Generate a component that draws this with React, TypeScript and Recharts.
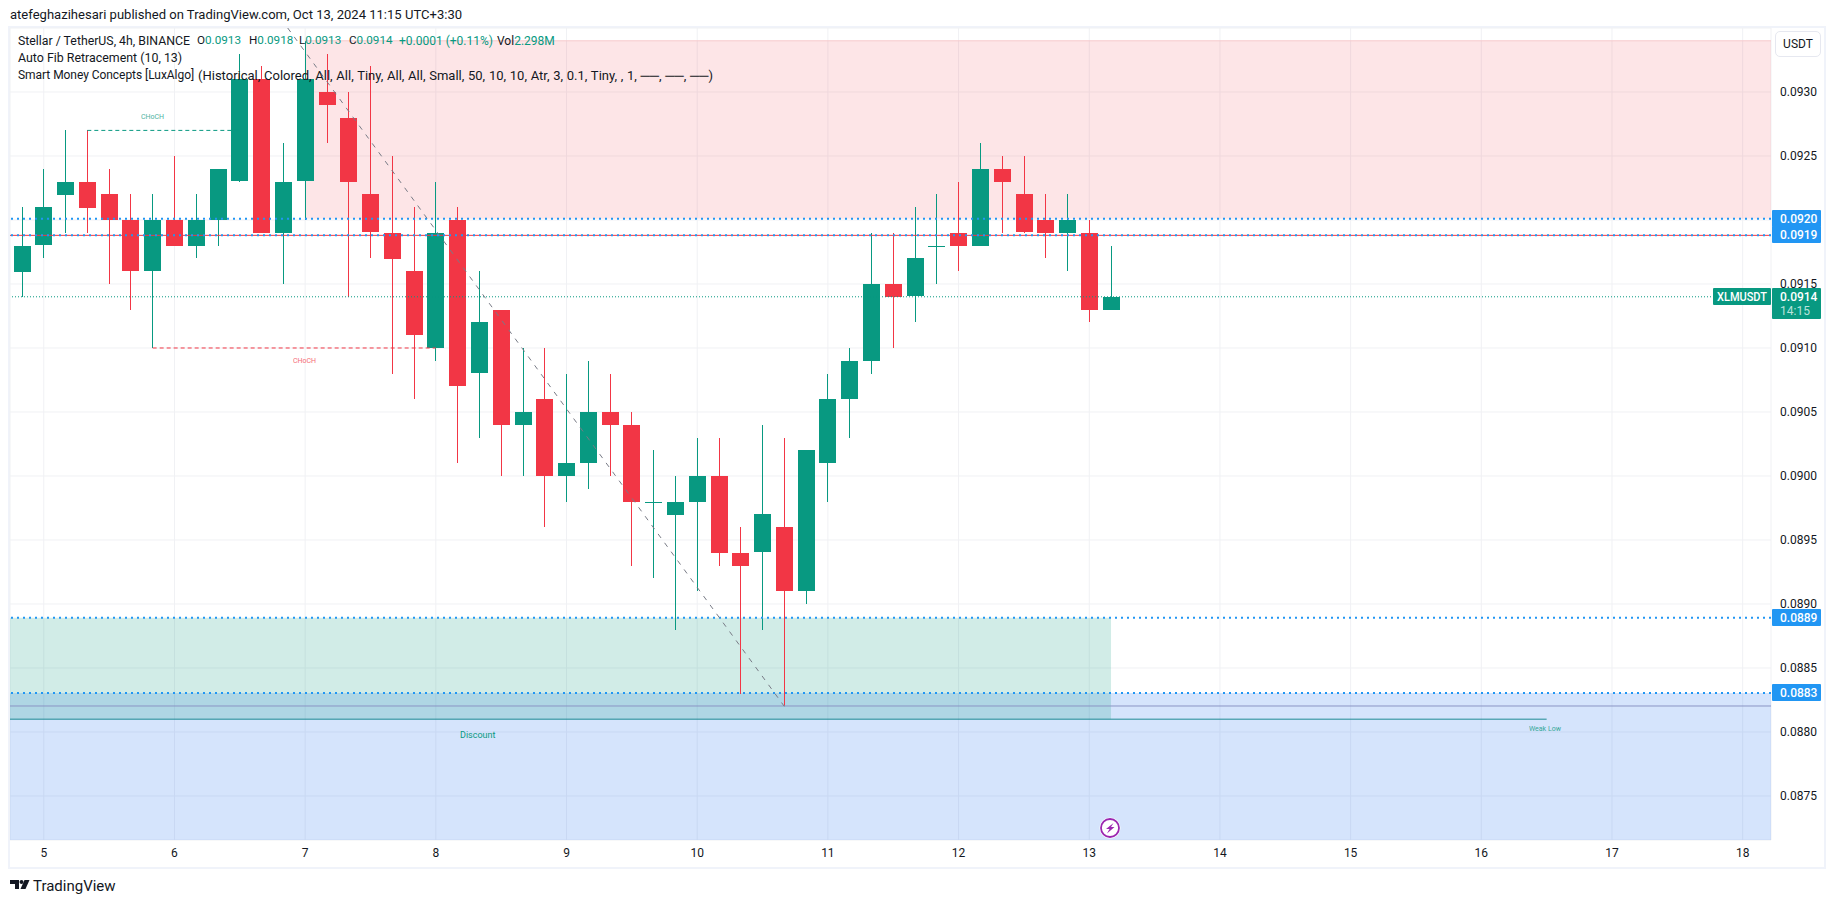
import React from "react";
import { ComposedChart, Bar, XAxis, YAxis, CartesianGrid, ReferenceArea, ReferenceLine } from "recharts";

const opens = [0.0916,0.0918,0.0922,0.0923,0.0922,0.0920,0.0916,0.0920,0.0918,0.0920,0.0923,0.0931,0.0919,0.0923,0.0930,0.0928,0.0922,0.0919,0.0916,0.0910,0.0920,0.0908,0.0913,0.0904,0.0906,0.0900,0.0901,0.0905,0.0904,0.0898,0.0897,0.0898,0.0900,0.0894,0.0894,0.0896,0.0891,0.0901,0.0906,0.0909,0.0915,0.0914,0.0918,0.0919,0.0918,0.0924,0.0922,0.0920,0.0919,0.0919,0.0913];
const highs = [0.0921,0.0924,0.0927,0.0927,0.0924,0.0922,0.0922,0.0925,0.0922,0.0924,0.0933,0.0932,0.0926,0.0934,0.0933,0.0930,0.0932,0.0925,0.0921,0.0923,0.0921,0.0916,0.0913,0.0910,0.0910,0.0908,0.0909,0.0908,0.0905,0.0902,0.0900,0.0903,0.0903,0.0896,0.0904,0.0903,0.0902,0.0908,0.0910,0.0919,0.0919,0.0921,0.0922,0.0923,0.0926,0.0925,0.0925,0.0922,0.0922,0.0920,0.0918];
const lows = [0.0914,0.0917,0.0919,0.0919,0.0915,0.0913,0.0910,0.0918,0.0917,0.0918,0.0923,0.0919,0.0915,0.0920,0.0926,0.0914,0.0917,0.0908,0.0906,0.0909,0.0901,0.0903,0.0900,0.0900,0.0896,0.0898,0.0899,0.0900,0.0893,0.0892,0.0888,0.0891,0.0893,0.0883,0.0888,0.0882,0.0890,0.0898,0.0903,0.0908,0.0910,0.0912,0.0915,0.0916,0.0918,0.0919,0.0919,0.0917,0.0916,0.0912,0.0913];
const closes = [0.0918,0.0921,0.0923,0.0921,0.0920,0.0916,0.0920,0.0918,0.0920,0.0924,0.0931,0.0919,0.0923,0.0931,0.0929,0.0923,0.0919,0.0917,0.0911,0.0919,0.0907,0.0912,0.0904,0.0905,0.0900,0.0901,0.0905,0.0904,0.0898,0.0898,0.0898,0.0900,0.0894,0.0893,0.0897,0.0891,0.0902,0.0906,0.0909,0.0915,0.0914,0.0917,0.0918,0.0918,0.0924,0.0923,0.0919,0.0919,0.0920,0.0913,0.0914];

const dayLabels = [5,6,7,8,9,10,11,12,13,14,15,16,17,18];
const dayBars = [1,7,13,19,25,31,37,43,49,55,61,67,73,79];
const priceTicks = [0.0875,0.088,0.0885,0.089,0.0895,0.09,0.0905,0.091,0.0915,0.092,0.0925,0.093];

const barDomain: [number, number] = [-0.55, 80.3];
const priceDomain: [number, number] = [0.087156, 0.0935];

const premiumTop = 0.0934, premiumBottom = 0.09201, premiumStartBar = 13;
const fibHigh = 0.09201, fibHigh2 = 0.09188, fibLow = 0.088893, fibLow2 = 0.088305;
const purpleLevel = 0.088203, weakLow = 0.0881, lastPrice = 0.0914;
const weakLowEndBar = 70.0, greenZoneEndBar = 50;
const chochUp = 0.0927, chochDown = 0.091;
const trendStart = { x: 12.2, y: 0.0935 }, trendEnd = { x: 35, y: 0.0882 };

const legendOhlc = [
  { key: "O", value: "0.0913", left: 197 },
  { key: "H", value: "0.0918", left: 249 },
  { key: "L", value: "0.0913", left: 299 },
  { key: "C", value: "0.0914", left: 349 },
];

const candles = opens.map((o, i) => ({ bar: i, o, h: highs[i], l: lows[i], c: closes[i], range: [lows[i], highs[i]] }));

const UP = "#089981", DOWN = "#f23645", BLUE = "#2196f3";
const FONT = "Roboto, 'Noto Sans', sans-serif";

function Candle(props: any) {
  const { x, y, width, height, payload } = props;
  const p = payload;
  const top = Math.min(y, y + height);
  const span = Math.abs(height);
  const k = span / (p.h - p.l);
  const hi = Math.max(p.o, p.c), lo = Math.min(p.o, p.c);
  const color = p.c >= p.o ? UP : DOWN;
  const cx = Math.round(x + width / 2);
  const by = Math.round(top + (p.h - hi) * k);
  const bh = Math.max(1, Math.round((hi - lo) * k));
  return (
    <g shapeRendering="crispEdges">
      <rect x={cx} y={top} width={1} height={span} fill={color} />
      <rect x={cx - 8} y={by} width={17} height={bh} fill={color} />
    </g>
  );
}

function PriceTag(props: any) {
  const { viewBox, text, fill } = props;
  const y = Math.round(viewBox.y);
  const x = viewBox.x + viewBox.width + 1;
  return (
    <g>
      <rect x={x} y={y - 9} width={49} height={17} rx={1} fill={fill} />
      <text x={x + 8} y={y + 4} fontFamily={FONT} fontSize={12} fontWeight={500} fill="#fff">{text}</text>
    </g>
  );
}

function LastTag(props: any) {
  const { viewBox } = props;
  const y = Math.round(viewBox.y);
  const x = viewBox.x + viewBox.width;
  return (
    <g>
      <rect x={x - 58} y={y - 9} width={58} height={17} rx={1} fill={UP} />
      <text x={x - 54} y={y + 4} fontFamily={FONT} fontSize={12} fontWeight={500} fill="#fff" textLength={50} lengthAdjust="spacingAndGlyphs">XLMUSDT</text>
      <rect x={x + 1} y={y - 9} width={49} height={31} rx={1} fill={UP} />
      <text x={x + 9} y={y + 4} fontFamily={FONT} fontSize={12} fontWeight={500} fill="#fff">0.0914</text>
      <text x={x + 9} y={y + 18} fontFamily={FONT} fontSize={12} fill="#b9e3db">14:15</text>
    </g>
  );
}

const T = (p: any) => (
  <div style={{ position: "absolute", whiteSpace: "pre", fontFamily: FONT, lineHeight: 1, ...p.s }}>{p.children}</div>
);

export default function App() {
  return (
    <div style={{ position: "absolute", left: 0, top: 0, width: 1835, height: 903, background: "#fff", overflow: "hidden" }}>
      <div style={{ position: "absolute", left: 8, top: 26, width: 1814, height: 839, border: "2px solid #f0f3fa" }} />
      <div style={{ position: "absolute", left: 0, top: 0 }}>
        <ComposedChart width={1835} height={903} data={candles} margin={{ top: 28, right: 10, bottom: 35, left: 10 }}>
          <CartesianGrid stroke="#f0f1f4" strokeWidth={1} />
          <XAxis dataKey="bar" type="number" domain={barDomain} allowDataOverflow ticks={dayBars} interval={0} height={28}
            tickFormatter={(v: number) => String(dayLabels[dayBars.indexOf(v)])} axisLine={false} tickLine={false} tickSize={0} tickMargin={8}
            tick={{ fontFamily: FONT, fontSize: 12, fill: "#131722" }} />
          <YAxis orientation="right" type="number" domain={priceDomain} allowDataOverflow ticks={priceTicks} interval={0} width={54}
            tickFormatter={(v: number) => (v === 0.092 ? "" : v.toFixed(4))} axisLine={false} tickLine={false} tickSize={0} tickMargin={9}
            tick={{ fontFamily: FONT, fontSize: 12, fill: "#131722" }} />
          <ReferenceArea x1={premiumStartBar} x2={barDomain[1]} y1={premiumBottom} y2={premiumTop} fill="rgb(242,54,69)" fillOpacity={0.13} stroke="none" />
          <ReferenceLine segment={[{ x: premiumStartBar, y: premiumTop }, { x: barDomain[1], y: premiumTop }]} stroke="#f7c9cc" />
          <ReferenceArea y1={priceDomain[0]} y2={fibLow2} fill="rgb(46,120,240)" fillOpacity={0.2} stroke="none" />
          <ReferenceArea x1={barDomain[0]} x2={greenZoneEndBar} y1={weakLow} y2={fibLow} fill="rgb(8,153,129)" fillOpacity={0.19} stroke="none" />
          <ReferenceLine y={lastPrice} stroke={UP} strokeWidth={1} strokeDasharray="1 2" label={<LastTag />} />
          <ReferenceLine y={fibHigh2} stroke={DOWN} strokeWidth={1} />
          <ReferenceLine y={fibHigh} stroke={BLUE} strokeWidth={2} strokeDasharray="2 4" label={<PriceTag text="0.0920" fill={BLUE} />} />
          <ReferenceLine y={fibHigh2} stroke={BLUE} strokeWidth={2} strokeDasharray="2 4" label={<PriceTag text="0.0919" fill={BLUE} />} />
          <ReferenceLine y={fibLow} stroke={BLUE} strokeWidth={2} strokeDasharray="2 4" label={<PriceTag text="0.0889" fill={BLUE} />} />
          <ReferenceLine y={fibLow2} stroke={BLUE} strokeWidth={2} strokeDasharray="2 4" label={<PriceTag text="0.0883" fill={BLUE} />} />
          <ReferenceLine y={purpleLevel} stroke="#8b94c4" strokeWidth={1} />
          <ReferenceLine segment={[{ x: barDomain[0], y: weakLow }, { x: weakLowEndBar, y: weakLow }]} stroke="#1e8b95" strokeWidth={1} />
          <ReferenceLine segment={[{ x: 3, y: chochUp }, { x: 10, y: chochUp }]} stroke={UP} strokeDasharray="4 3" />
          <ReferenceLine segment={[{ x: 6, y: chochDown }, { x: 19, y: chochDown }]} stroke={DOWN} strokeDasharray="4 3" />
          <ReferenceLine segment={[trendStart, trendEnd]} stroke="#787b86" strokeDasharray="5 6" />
          <Bar dataKey="range" barSize={17} shape={<Candle />} isAnimationActive={false} />
        </ComposedChart>
      </div>

      <T s={{ left: 10, top: 8, fontSize: 13.05, color: "#131722" }}>atefeghazihesari published on TradingView.com, Oct 13, 2024 11:15 UTC+3:30</T>

      <T s={{ left: 18, top: 35, fontSize: 12.3, color: "#131722" }}>Stellar / TetherUS, 4h, BINANCE</T>
      {legendOhlc.map((d) => (
        <T key={d.key} s={{ left: d.left, top: 35, fontSize: 11.7, color: "#131722" }}>{d.key}<span style={{ color: UP }}>{d.value}</span></T>
      ))}
      <T s={{ left: 399, top: 35, fontSize: 12, color: UP }}>+0.0001 (+0.11%)</T>
      <T s={{ left: 497, top: 35, fontSize: 12, color: "#131722" }}>Vol<span style={{ color: UP }}>2.298M</span></T>

      <T s={{ left: 18, top: 52, fontSize: 12.4, color: "#131722" }}>Auto Fib Retracement (10, 13)</T>
      <T s={{ left: 18, top: 69, fontSize: 12, letterSpacing: -0.05, color: "#131722" }}>Smart Money Concepts [LuxAlgo]</T>
      <T s={{ left: 198, top: 69, fontSize: 13, wordSpacing: 0.5, color: "#131722" }}>(Historical, Colored, All, All, Tiny, All, All, Small, 50, 10, 10, Atr, 3, 0.1, Tiny, , 1, ──, ──, ──)</T>

      <T s={{ left: 141, top: 114, fontSize: 7, color: "#089981", opacity: 0.75 }}>CHoCH</T>
      <T s={{ left: 293, top: 358, fontSize: 7, color: "#f23645", opacity: 0.75 }}>CHoCH</T>
      <T s={{ left: 460, top: 731, fontSize: 9, color: "#089981" }}>Discount</T>
      <T s={{ left: 1529, top: 726, fontSize: 7, color: "#089981", opacity: 0.8 }}>Weak Low</T>

      <div style={{ position: "absolute", left: 1775, top: 31, width: 46, height: 26, boxSizing: "border-box", border: "1px solid #e6e8f0", borderRadius: 5, background: "#fff", fontFamily: FONT, fontSize: 12, color: "#131722", textAlign: "center", lineHeight: "24px" }}>USDT</div>

      <svg style={{ position: "absolute", left: 1099, top: 817 }} width={22} height={22}>
        <circle cx={11} cy={11} r={10.5} fill="#fff" />
        <circle cx={11} cy={11} r={9} fill="none" stroke="#9c27b0" strokeWidth={1.8} />
        <path d="M14.5 6 L7 12 H10.5 L8 16.5 L15.5 10 H12 Z" fill="#9c27b0" />
      </svg>

      <svg style={{ position: "absolute", left: 10, top: 879 }} width={20} height={11}>
        <path d="M0 1 H9 V10 H5 V5 H0 Z" fill="#131722" />
        <circle cx={11.5} cy={3} r={2} fill="#131722" />
        <path d="M14.5 1 H19.5 L15.5 10 H10.5 Z" fill="#131722" />
      </svg>
      <T s={{ left: 33, top: 879, fontSize: 15, color: "#131722" }}>TradingView</T>
    </div>
  );
}
